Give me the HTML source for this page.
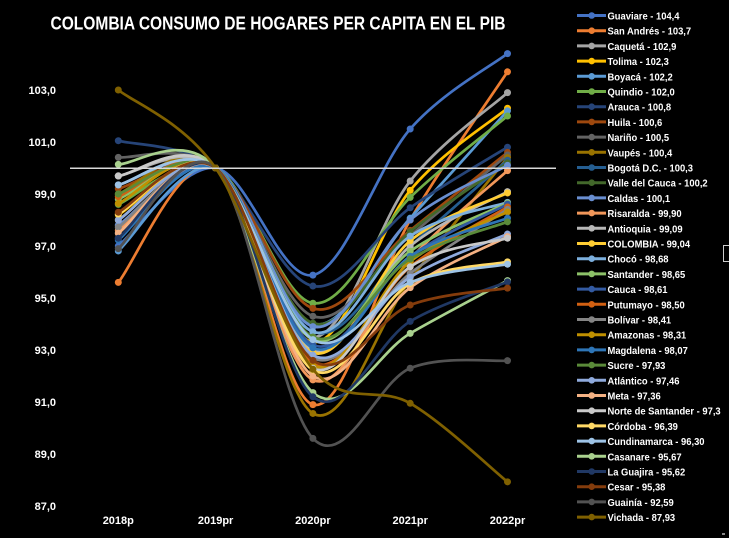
<!DOCTYPE html>
<html><head><meta charset="utf-8">
<style>
html,body{margin:0;padding:0;background:#000;}
svg{display:block;}
text{font-family:"Liberation Sans",sans-serif;font-weight:bold;fill:#fff;}
.lg line{stroke-width:3;}
.lg text{font-size:10px;}
</style></head><body>
<svg id="c" width="729" height="538" viewBox="0 0 729 538" xmlns="http://www.w3.org/2000/svg">
<rect width="729" height="538" fill="#000"/>
<text x="278" y="29.5" font-size="18" text-anchor="middle" textLength="455" lengthAdjust="spacingAndGlyphs">COLOMBIA CONSUMO DE HOGARES PER CAPITA EN EL PIB</text>
<g font-size="11" text-anchor="end">
<text x="56" y="93.8">103,0</text>
<text x="56" y="145.8">101,0</text>
<text x="56" y="197.8">99,0</text>
<text x="56" y="249.8">97,0</text>
<text x="56" y="301.8">95,0</text>
<text x="56" y="353.8">93,0</text>
<text x="56" y="405.8">91,0</text>
<text x="56" y="457.8">89,0</text>
<text x="56" y="509.8">87,0</text>
</g>
<g font-size="11" text-anchor="middle">
<text x="118.3" y="524">2018p</text>
<text x="215.6" y="524">2019pr</text>
<text x="312.9" y="524">2020pr</text>
<text x="410.2" y="524">2021pr</text>
<text x="507.5" y="524">2022pr</text>
</g>
<g id="series"></g>
<line x1="70" y1="168.3" x2="556" y2="168.3" stroke="#d9d9d9" stroke-width="1.5"/>
<g class="lg">
<g transform="translate(0,15.5)"><line x1="577" x2="606" stroke="#4472C4"/><circle cx="591.7" r="3.3" fill="#4472C4"/><text y="4" transform="translate(607.5,0) scale(0.94,1)">Guaviare - 104,4</text></g>
<g transform="translate(0,30.7)"><line x1="577" x2="606" stroke="#ED7D31"/><circle cx="591.7" r="3.3" fill="#ED7D31"/><text y="4" transform="translate(607.5,0) scale(0.94,1)">San Andrés - 103,7</text></g>
<g transform="translate(0,45.9)"><line x1="577" x2="606" stroke="#A5A5A5"/><circle cx="591.7" r="3.3" fill="#A5A5A5"/><text y="4" transform="translate(607.5,0) scale(0.94,1)">Caquetá - 102,9</text></g>
<g transform="translate(0,61.1)"><line x1="577" x2="606" stroke="#FFC000"/><circle cx="591.7" r="3.3" fill="#FFC000"/><text y="4" transform="translate(607.5,0) scale(0.94,1)">Tolima - 102,3</text></g>
<g transform="translate(0,76.3)"><line x1="577" x2="606" stroke="#5B9BD5"/><circle cx="591.7" r="3.3" fill="#5B9BD5"/><text y="4" transform="translate(607.5,0) scale(0.94,1)">Boyacá - 102,2</text></g>
<g transform="translate(0,91.5)"><line x1="577" x2="606" stroke="#70AD47"/><circle cx="591.7" r="3.3" fill="#70AD47"/><text y="4" transform="translate(607.5,0) scale(0.94,1)">Quindio - 102,0</text></g>
<g transform="translate(0,106.7)"><line x1="577" x2="606" stroke="#264478"/><circle cx="591.7" r="3.3" fill="#264478"/><text y="4" transform="translate(607.5,0) scale(0.94,1)">Arauca - 100,8</text></g>
<g transform="translate(0,121.9)"><line x1="577" x2="606" stroke="#9E480E"/><circle cx="591.7" r="3.3" fill="#9E480E"/><text y="4" transform="translate(607.5,0) scale(0.94,1)">Huila - 100,6</text></g>
<g transform="translate(0,137.1)"><line x1="577" x2="606" stroke="#636363"/><circle cx="591.7" r="3.3" fill="#636363"/><text y="4" transform="translate(607.5,0) scale(0.94,1)">Nariño - 100,5</text></g>
<g transform="translate(0,152.3)"><line x1="577" x2="606" stroke="#997300"/><circle cx="591.7" r="3.3" fill="#997300"/><text y="4" transform="translate(607.5,0) scale(0.94,1)">Vaupés - 100,4</text></g>
<g transform="translate(0,167.5)"><line x1="577" x2="606" stroke="#255E91"/><circle cx="591.7" r="3.3" fill="#255E91"/><text y="4" transform="translate(607.5,0) scale(0.94,1)">Bogotá D.C. - 100,3</text></g>
<g transform="translate(0,182.7)"><line x1="577" x2="606" stroke="#43682B"/><circle cx="591.7" r="3.3" fill="#43682B"/><text y="4" transform="translate(607.5,0) scale(0.94,1)">Valle del Cauca - 100,2</text></g>
<g transform="translate(0,197.9)"><line x1="577" x2="606" stroke="#698ED0"/><circle cx="591.7" r="3.3" fill="#698ED0"/><text y="4" transform="translate(607.5,0) scale(0.94,1)">Caldas - 100,1</text></g>
<g transform="translate(0,213.1)"><line x1="577" x2="606" stroke="#F1975A"/><circle cx="591.7" r="3.3" fill="#F1975A"/><text y="4" transform="translate(607.5,0) scale(0.94,1)">Risaralda - 99,90</text></g>
<g transform="translate(0,228.3)"><line x1="577" x2="606" stroke="#B7B7B7"/><circle cx="591.7" r="3.3" fill="#B7B7B7"/><text y="4" transform="translate(607.5,0) scale(0.94,1)">Antioquia - 99,09</text></g>
<g transform="translate(0,243.5)"><line x1="577" x2="606" stroke="#FFCD33"/><circle cx="591.7" r="3.3" fill="#FFCD33"/><text y="4" transform="translate(607.5,0) scale(0.94,1)">COLOMBIA - 99,04</text></g>
<g transform="translate(0,258.7)"><line x1="577" x2="606" stroke="#7CAFDD"/><circle cx="591.7" r="3.3" fill="#7CAFDD"/><text y="4" transform="translate(607.5,0) scale(0.94,1)">Chocó - 98,68</text></g>
<g transform="translate(0,273.9)"><line x1="577" x2="606" stroke="#8CC168"/><circle cx="591.7" r="3.3" fill="#8CC168"/><text y="4" transform="translate(607.5,0) scale(0.94,1)">Santander - 98,65</text></g>
<g transform="translate(0,289.1)"><line x1="577" x2="606" stroke="#335AA1"/><circle cx="591.7" r="3.3" fill="#335AA1"/><text y="4" transform="translate(607.5,0) scale(0.94,1)">Cauca - 98,61</text></g>
<g transform="translate(0,304.3)"><line x1="577" x2="606" stroke="#D26012"/><circle cx="591.7" r="3.3" fill="#D26012"/><text y="4" transform="translate(607.5,0) scale(0.94,1)">Putumayo - 98,50</text></g>
<g transform="translate(0,319.5)"><line x1="577" x2="606" stroke="#848484"/><circle cx="591.7" r="3.3" fill="#848484"/><text y="4" transform="translate(607.5,0) scale(0.94,1)">Bolívar - 98,41</text></g>
<g transform="translate(0,334.7)"><line x1="577" x2="606" stroke="#BF9000"/><circle cx="591.7" r="3.3" fill="#BF9000"/><text y="4" transform="translate(607.5,0) scale(0.94,1)">Amazonas - 98,31</text></g>
<g transform="translate(0,349.9)"><line x1="577" x2="606" stroke="#2E75B6"/><circle cx="591.7" r="3.3" fill="#2E75B6"/><text y="4" transform="translate(607.5,0) scale(0.94,1)">Magdalena - 98,07</text></g>
<g transform="translate(0,365.1)"><line x1="577" x2="606" stroke="#5A8A39"/><circle cx="591.7" r="3.3" fill="#5A8A39"/><text y="4" transform="translate(607.5,0) scale(0.94,1)">Sucre - 97,93</text></g>
<g transform="translate(0,380.3)"><line x1="577" x2="606" stroke="#8FAADC"/><circle cx="591.7" r="3.3" fill="#8FAADC"/><text y="4" transform="translate(607.5,0) scale(0.94,1)">Atlántico - 97,46</text></g>
<g transform="translate(0,395.5)"><line x1="577" x2="606" stroke="#F4B183"/><circle cx="591.7" r="3.3" fill="#F4B183"/><text y="4" transform="translate(607.5,0) scale(0.94,1)">Meta - 97,36</text></g>
<g transform="translate(0,410.7)"><line x1="577" x2="606" stroke="#C9C9C9"/><circle cx="591.7" r="3.3" fill="#C9C9C9"/><text y="4" transform="translate(607.5,0) scale(0.94,1)">Norte de Santander - 97,3</text></g>
<g transform="translate(0,425.9)"><line x1="577" x2="606" stroke="#FFD966"/><circle cx="591.7" r="3.3" fill="#FFD966"/><text y="4" transform="translate(607.5,0) scale(0.94,1)">Córdoba - 96,39</text></g>
<g transform="translate(0,441.1)"><line x1="577" x2="606" stroke="#9DC3E6"/><circle cx="591.7" r="3.3" fill="#9DC3E6"/><text y="4" transform="translate(607.5,0) scale(0.94,1)">Cundinamarca - 96,30</text></g>
<g transform="translate(0,456.3)"><line x1="577" x2="606" stroke="#A9D18E"/><circle cx="591.7" r="3.3" fill="#A9D18E"/><text y="4" transform="translate(607.5,0) scale(0.94,1)">Casanare - 95,67</text></g>
<g transform="translate(0,471.5)"><line x1="577" x2="606" stroke="#203864"/><circle cx="591.7" r="3.3" fill="#203864"/><text y="4" transform="translate(607.5,0) scale(0.94,1)">La Guajira - 95,62</text></g>
<g transform="translate(0,486.7)"><line x1="577" x2="606" stroke="#843C0C"/><circle cx="591.7" r="3.3" fill="#843C0C"/><text y="4" transform="translate(607.5,0) scale(0.94,1)">Cesar - 95,38</text></g>
<g transform="translate(0,501.9)"><line x1="577" x2="606" stroke="#525252"/><circle cx="591.7" r="3.3" fill="#525252"/><text y="4" transform="translate(607.5,0) scale(0.94,1)">Guainía - 92,59</text></g>
<g transform="translate(0,517.1)"><line x1="577" x2="606" stroke="#7F6000"/><circle cx="591.7" r="3.3" fill="#7F6000"/><text y="4" transform="translate(607.5,0) scale(0.94,1)">Vichada - 87,93</text></g>
</g>
<rect x="723.5" y="245.5" width="10" height="16" fill="none" stroke="#cccccc" stroke-width="1"/>
<rect x="722" y="533" width="3" height="2" fill="#888"/>
</svg>
<script>
(function(){
var X=[118.3,215.6,312.9,410.2,507.5];
function Yf(v){return 90+(103-v)*26;}
var D=[
["#4472C4",[97.0,95.88,101.5,104.4]],
["#ED7D31",[95.6,90.9,98.0,103.7]],
["#A5A5A5",[99.7,93.5,99.5,102.9]],
["#FFC000",[98.2,93.3,99.14,102.3]],
["#5B9BD5",[96.81,94.0,98.07,102.2]],
["#70AD47",[98.6,94.8,98.87,102.0]],
["#264478",[101.05,95.46,98.47,100.8]],
["#9E480E",[99.2,94.6,97.6,100.6]],
["#636363",[100.41,94.3,97.4,100.5]],
["#997300",[99.0,90.56,95.7,100.4]],
["#255E91",[97.5,93.7,97.0,100.3]],
["#43682B",[99.0,94.03,97.55,100.2]],
["#698ED0",[97.8,93.9,98.0,100.1]],
["#F1975A",[97.6,91.85,96.5,99.9]],
["#B7B7B7",[99.69,93.0,97.0,99.09]],
["#FFCD33",[98.0,92.9,97.2,99.04]],
["#7CAFDD",[99.35,93.7,97.38,98.68]],
["#8CC168",[98.8,93.4,96.8,98.65]],
["#335AA1",[97.3,93.2,96.6,98.61]],
["#D26012",[98.9,92.5,96.2,98.5]],
["#848484",[97.72,92.7,95.95,98.41]],
["#BF9000",[98.64,92.4,96.4,98.31]],
["#2E75B6",[97.23,93.08,96.6,98.07]],
["#5A8A39",[99.0,93.5,96.5,97.93]],
["#8FAADC",[98.0,92.8,95.8,97.46]],
["#F4B183",[97.49,92.0,95.4,97.36]],
["#C9C9C9",[99.69,92.3,96.2,97.3]],
["#FFD966",[98.23,92.23,95.56,96.39]],
["#9DC3E6",[99.35,93.4,95.6,96.30]],
["#A9D18E",[100.14,91.36,93.64,95.67]],
["#203864",[97.3,91.2,94.1,95.62]],
["#843C0C",[98.3,92.6,94.73,95.38]],
["#525252",[96.9,89.6,92.3,92.59]],
["#7F6000",[103.0,92.26,90.95,87.93]]
];
var NS="http://www.w3.org/2000/svg";
var g=document.getElementById("series");
function f(n){return n.toFixed(2);}
D.forEach(function(s){
  var c=s[0],v=s[1];
  var vals=[v[0],100,v[1],v[2],v[3]];
  var P=vals.map(function(val,i){return [X[i],Yf(val)];});
  var d="M"+f(P[0][0])+","+f(P[0][1]);
  for(var i=0;i<4;i++){
    var p0=P[Math.max(i-1,0)],p1=P[i],p2=P[i+1],p3=P[Math.min(i+2,4)];
    var c1=[p1[0]+(p2[0]-p0[0])/6,p1[1]+(p2[1]-p0[1])/6];
    var c2=[p2[0]-(p3[0]-p1[0])/6,p2[1]-(p3[1]-p1[1])/6];
    d+=" C"+f(c1[0])+","+f(c1[1])+" "+f(c2[0])+","+f(c2[1])+" "+f(p2[0])+","+f(p2[1]);
  }
  var p=document.createElementNS(NS,"path");
  p.setAttribute("d",d);p.setAttribute("fill","none");
  p.setAttribute("stroke",c);p.setAttribute("stroke-width","2.7");
  p.setAttribute("stroke-linecap","round");
  g.appendChild(p);
  P.forEach(function(pt){
    var ci=document.createElementNS(NS,"circle");
    ci.setAttribute("cx",f(pt[0]));ci.setAttribute("cy",f(pt[1]));
    ci.setAttribute("r","3.5");ci.setAttribute("fill",c);
    g.appendChild(ci);
  });
});
})();
</script>
</body></html>
